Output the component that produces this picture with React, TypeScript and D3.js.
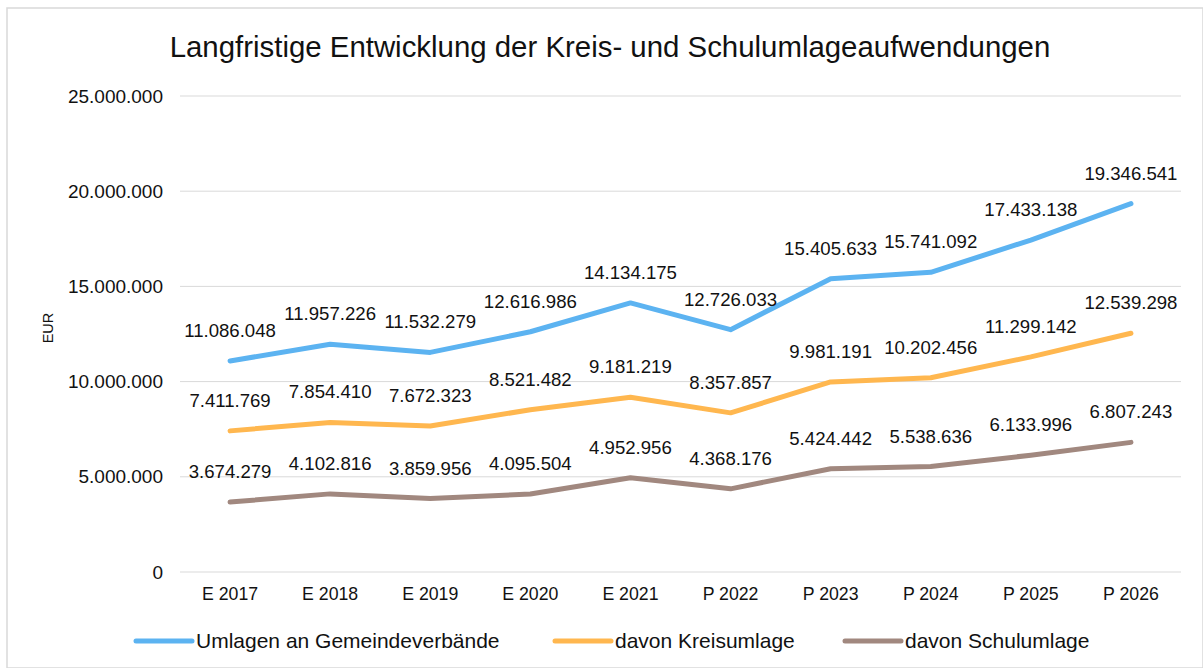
import React from 'react';
import * as d3 from 'd3';

const categories = ['E 2017', 'E 2018', 'E 2019', 'E 2020', 'E 2021', 'P 2022', 'P 2023', 'P 2024', 'P 2025', 'P 2026'];
const umlagen = [11086048, 11957226, 11532279, 12616986, 14134175, 12726033, 15405633, 15741092, 17433138, 19346541];
const kreisumlage = [7411769, 7854410, 7672323, 8521482, 9181219, 8357857, 9981191, 10202456, 11299142, 12539298];
const schulumlage = [3674279, 4102816, 3859956, 4095504, 4952956, 4368176, 5424442, 5538636, 6133996, 6807243];
const yTicks = [0, 5000000, 10000000, 15000000, 20000000, 25000000];

const seriesNames = ['Umlagen an Gemeindeverbände', 'davon Kreisumlage', 'davon Schulumlage'];
const seriesColors = ['#5cb3f1', '#ffb74f', '#a1887f'];

const fmt = (v: number) => (v === 0 ? '0' : d3.format(',')(v).replace(/,/g, '.'));

export default function App() {
  const W = 1196;
  const H = 660;
  const ox = 7;
  const oy = 8;
  const plot = { left: 180, right: 1181, top: 96, bottom: 572 };

  const x = d3.scaleBand<string>().domain(categories).range([plot.left, plot.right]);
  const y = d3.scaleLinear().domain([0, 25000000]).range([plot.bottom, plot.top]);
  const cx = (c: string) => (x(c) ?? 0) + x.bandwidth() / 2;

  const line = d3.line<number>()
    .x((_, i) => cx(categories[i]))
    .y(d => y(d));

  const allSeries = [umlagen, kreisumlage, schulumlage];
  const legendX = [136, 555, 845];

  return (
    <svg width={1203} height={668} style={{ position: 'absolute', left: 0, top: 0 }}
      fontFamily="'Liberation Sans', Arial, sans-serif">
      <rect x={ox} y={oy} width={W} height={H} fill="#fff" stroke="#d9d9d9" strokeWidth={1.5} />
      <text x={610} y={57} textAnchor="middle" fontSize={29.4} fill="#111">
        Langfristige Entwicklung der Kreis- und Schulumlageaufwendungen
      </text>

      {yTicks.map(t => (
        <g key={t}>
          <line x1={plot.left} x2={plot.right} y1={y(t)} y2={y(t)} stroke="#d9d9d9" strokeWidth={1} />
          <text x={163} y={y(t) + 6.5} textAnchor="end" fontSize={19} fill="#111">{fmt(t)}</text>
        </g>
      ))}

      <text transform={`translate(53,328) rotate(-90)`} textAnchor="middle" fontSize={14.5} fill="#111">EUR</text>

      {categories.map(c => (
        <text key={c} x={cx(c)} y={600} textAnchor="middle" fontSize={17.7} fill="#111">{c}</text>
      ))}

      {allSeries.map((s, k) => (
        <path key={k} d={line(s) || ''} fill="none" stroke={seriesColors[k]} strokeWidth={5} strokeLinejoin="round" strokeLinecap="round" />
      ))}

      {allSeries.map((s, k) => (
        <g key={'l' + k}>
          {s.map((v, i) => (
            <text key={i} x={cx(categories[i])} y={y(v) - 24} textAnchor="middle" fontSize={18.6} fill="#111">{fmt(v)}</text>
          ))}
        </g>
      ))}

      {seriesNames.map((n, k) => (
        <g key={n}>
          <line x1={legendX[k]} x2={legendX[k] + 56} y1={641} y2={641} stroke={seriesColors[k]} strokeWidth={5} strokeLinecap="round" />
          <text x={legendX[k] + 60} y={648} fontSize={21} fill="#111">{n}</text>
        </g>
      ))}
    </svg>
  );
}
